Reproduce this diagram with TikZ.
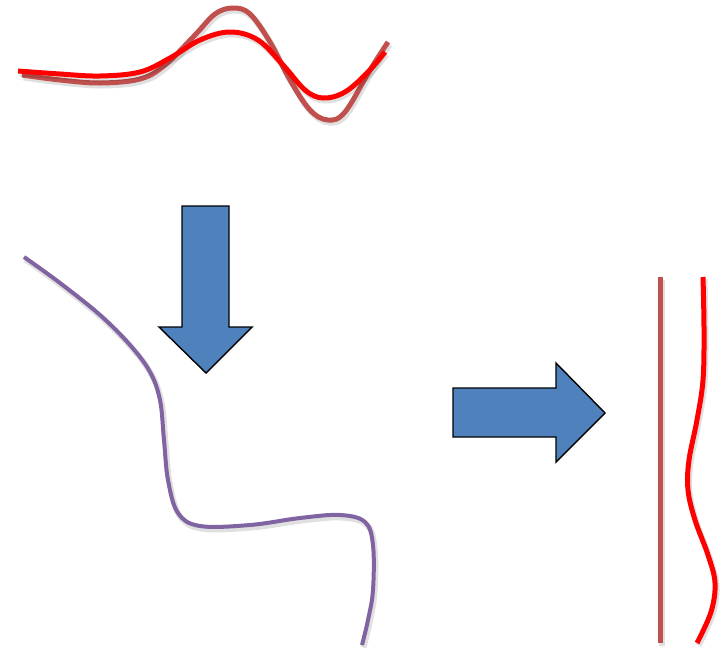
\documentclass[tikz,border=0pt]{standalone}
\definecolor{brownred}{HTML}{C0504D}
\definecolor{purpleline}{HTML}{8064A2}
\definecolor{bluefill}{HTML}{4F81BD}
\begin{document}
\begin{tikzpicture}[x=1pt,y=-1pt,
  shad/.style={preaction={draw=black, opacity=0.12, line width=6pt, transform canvas={shift={(1.5pt,-2.5pt)}}}},
  curve/.style={line width=5pt, line cap=butt, shad},
  bigarrow/.style={fill=bluefill, draw=black, line width=1.4pt, line join=miter}]
\useasboundingbox (0,0) rectangle (727,651);
% top curves
\draw[curve, brownred] plot[smooth, tension=0.6] coordinates {(22,75) (60,80) (100,83) (140,79) (165,65) (195,35) (215,14) (233,8) (250,14) (270,42) (290,80) (310,110) (328,120) (345,112) (370,70) (388,42)};
\draw[curve, red] plot[smooth, tension=0.6] coordinates {(18,71) (60,74) (100,76) (140,72) (170,58) (200,40) (230,32) (258,40) (283,65) (305,90) (323,98) (345,92) (368,72) (385,52)};
% down arrow
\draw[bigarrow] (182,206) -- (229,206) -- (229,327) -- (252,327) -- (206,373) -- (159,327) -- (182,327) -- cycle;
% purple curve
\draw[line width=4pt, purpleline, shad] plot[smooth, tension=0.6] coordinates {(24,257) (60,283) (100,315) (130,345) (150,372) (160,400) (164,440) (168,480) (178,513) (200,526) (250,525) (300,518) (340,515) (365,522) (373,545) (373,590) (368,620) (362,645)};
% right arrow
\draw[bigarrow] (453,388) -- (556,388) -- (556,363) -- (605,413) -- (556,462) -- (556,437) -- (453,437) -- cycle;
% right lines
\draw[curve, brownred] (660,277) -- (660,643);
\draw[curve, red] plot[smooth, tension=0.6] coordinates {(703,277) (704,330) (703,380) (697,420) (689,460) (688,490) (695,520) (708,555) (715,583) (711,612) (697,643)};
\end{tikzpicture}
\end{document}
